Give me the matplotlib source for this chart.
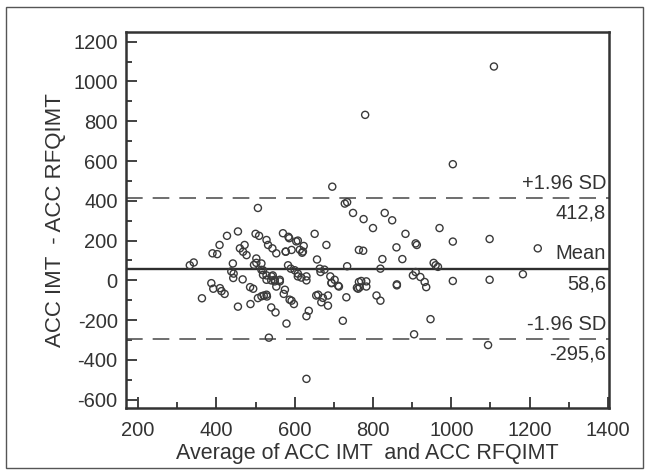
import matplotlib
matplotlib.use("Agg")
import matplotlib.pyplot as plt
from matplotlib.patches import Rectangle
from matplotlib.ticker import MultipleLocator

plt.rcParams['font.family'] = ['Liberation Sans', 'DejaVu Sans']
plt.rcParams['axes.unicode_minus'] = False

# Average of the two methods (x) and their difference (y)
avg = [332, 342, 363, 387, 392, 390, 402, 408, 413, 421, 427, 444, 442, 455, 455,
       460, 467, 468, 472, 477, 486, 487, 494, 500, 502, 506, 502, 509, 515, 519,
       521, 528, 528, 529, 532, 534, 540, 540, 543, 544, 549, 551, 553, 553, 562,
       570, 572, 577, 579, 583, 586, 590, 592, 592, 598, 600, 608, 608, 617, 619,
       623, 630, 630, 636, 630, 651, 657, 655, 664, 666, 672, 676, 681, 685, 685,
       691, 694, 696, 702, 713, 723, 728, 734, 734, 732, 749, 759, 764, 764,
       776, 800, 830, 849, 883, 909, 912, 970, 1004, 1098, 1221, 775, 860, 824,
       875, 819, 955, 960, 966, 909, 902, 921, 932, 936, 1004, 1098, 1183, 770,
       762, 783, 861, 809, 819, 947, 905, 1094, 780, 1109, 1004,
       584, 604, 613, 621, 577, 438, 443, 496, 515, 519, 528, 541, 549, 562,
       608, 630, 409, 506, 528, 515, 575, 587, 694, 711, 766, 783, 861, 660, 668]
diff = [76, 90, -90, -14, -42, 136, 132, 178, -54, -68, 224, 34, 85, 246, -132,
        161, 5, 144, 178, 127, -34, -119, -42, 234, 110, 364, 88, 224, 85, 51,
        -76, 203, 25, -81, 178, -288, 0, -136, 161, 25, 3, -161, 136, -31, -5,
        237, -68, 144, -217, 76, 212, 59, 153, -102, -119, 51, 200, 34, 14, 139,
        173, 0, -180, -153, -495, 234, 105, -76, 59, 42, -88, 54, 178, -127, -76,
        20, -14, 471, 3, -31, -203, 386, 393, 71, -85, 339, -37, 153, -8,
        308, 263, 339, 302, 234, 186, 178, 263, 195, 208, 161, 149, 166, 107,
        107, 59, 88, 76, 68, 42, 25, 17, -8, -34, -3, 3, 31, -3,
        -42, -31, -25, -76, -102, -195, -271, -325, 832, 1075, 584,
        219, 196, 154, 145, 145, 45, 12, 78, 53, 28, 3, 20, -5, 3,
        20, 20, -39, -89, -72, -80, -47, -97, -12, -27, -35, -5, -20, -72, -110]

mean_diff = 58.6
upper_loa = 412.8
lower_loa = -295.6

fig = plt.figure(figsize=(6.5, 4.74), dpi=100)
fig.patch.set_facecolor('white')
fig.add_artist(Rectangle((6 / 650, 1 - 468 / 474), 637 / 650, 461 / 474,
                         transform=fig.transFigure, fill=False,
                         edgecolor='#555555', linewidth=1.0))

ax = fig.add_axes([126 / 650, 1 - 408.3 / 474, 483 / 650, 376.6 / 474])
ax.scatter(avg, diff, s=26, facecolors='none', edgecolors='#3a3a3a',
           linewidths=1.0, zorder=3)

ax.axhline(mean_diff, color='#2e2e2e', linewidth=1.7, zorder=2)
for v in (upper_loa, lower_loa):
    ax.axhline(v, color='#555555', linewidth=1.2, linestyle=(0, (10, 6)), zorder=2)

ax.set_xlim(169, 1403)
ax.set_ylim(-643, 1250)
ax.xaxis.set_major_locator(MultipleLocator(200))
ax.xaxis.set_minor_locator(MultipleLocator(100))
ax.yaxis.set_major_locator(MultipleLocator(200))
ax.yaxis.set_minor_locator(MultipleLocator(100))
ax.tick_params(which='major', direction='in', length=8, width=1.3,
               color='#333333', labelsize=14.5, labelcolor='#333333')
ax.tick_params(which='minor', direction='in', length=4.5, width=1.3,
               color='#333333')
ax.tick_params(axis='x', which='major', pad=9)
ax.tick_params(axis='y', which='major', pad=6)
for s in ax.spines.values():
    s.set_linewidth(1.8)
    s.set_color('#333333')

ax.set_xlabel('Average of ACC IMT  and ACC RFQIMT', fontsize=15.5,
              color='#333333', labelpad=2)
ax.set_ylabel('ACC IMT  - ACC RFQIMT', fontsize=16, color='#333333',
              labelpad=5)

labels = [(upper_loa, '+1.96 SD', '412,8'),
          (mean_diff, 'Mean', '58,6'),
          (lower_loa, '-1.96 SD', '-295,6')]
for v, top, bottom in labels:
    ax.annotate(top, xy=(1, v), xycoords=('axes fraction', 'data'),
                xytext=(-2, 4), textcoords='offset points', ha='right',
                va='bottom', fontsize=14.5, color='#333333')
    ax.annotate(bottom, xy=(1, v), xycoords=('axes fraction', 'data'),
                xytext=(-2, -4), textcoords='offset points', ha='right',
                va='top', fontsize=14.5, color='#333333')

fig.savefig('out.png', dpi=100, facecolor='white')
